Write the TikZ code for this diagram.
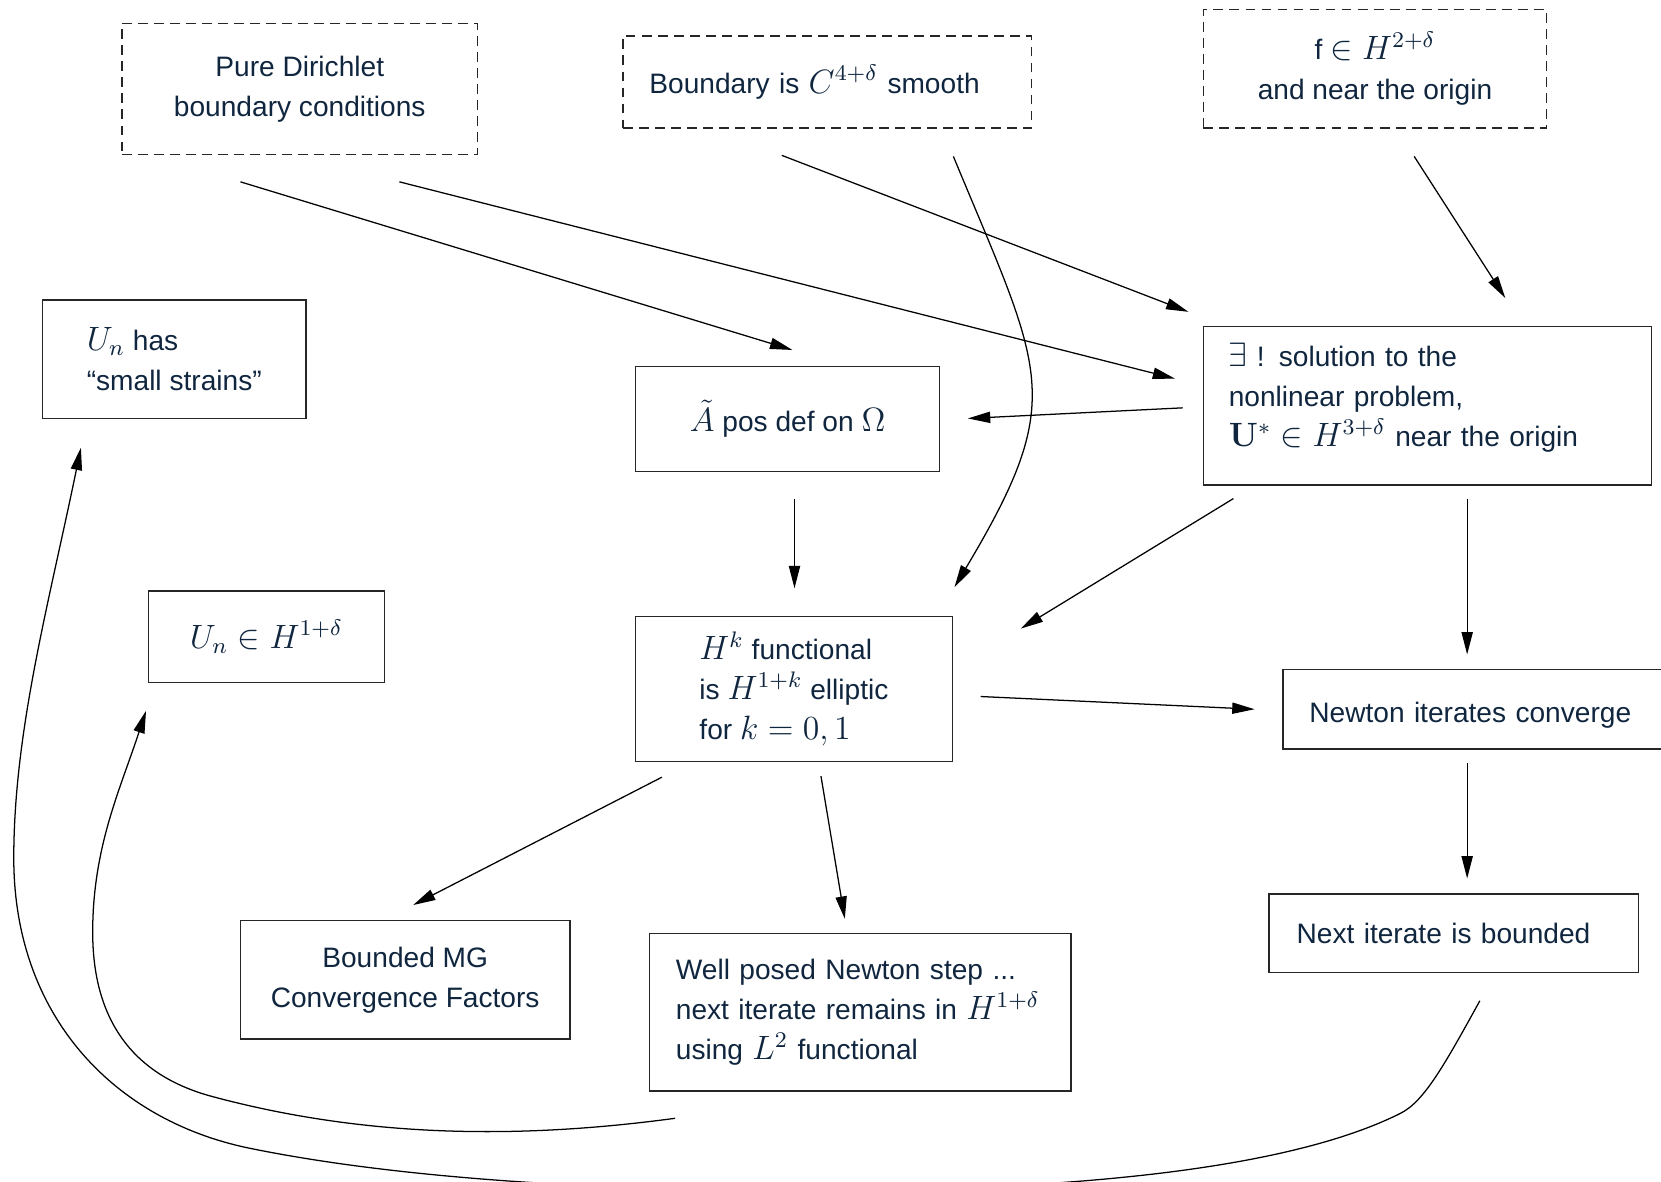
\documentclass[tikz,border=0pt]{standalone}
\usepackage[no-math]{fontspec}
\setmainfont{Liberation Sans}
\usepackage{amsmath,amssymb}
\usetikzlibrary{arrows.meta}
\definecolor{inkblue}{HTML}{10263F}
\DeclareMathSizes{10}{12}{8.5}{6}

\begin{document}
\begin{tikzpicture}[
    x=0.013243cm, y=-0.013243cm,
    >={Triangle[length=2.8mm, width=1.4mm]},
    every node/.style={text=inkblue, font=\fontsize{10}{14.3}\selectfont},
    box/.style={draw=black!85, line width=0.5pt, rectangle, inner sep=0pt},
    dbox/.style={box, dash pattern=on 3.5pt off 2.2pt},
    link/.style={->, line width=0.45pt},
  ]

  % Frame of the figure
  \clip (0,0) rectangle (1568,1115);

  % === Hypotheses (dashed) ===
  \node[dbox, minimum width=4.450cm, minimum height=1.642cm, align=center]
    (pd) at (283,84) {Pure Dirichlet\\boundary conditions};
  \node[dbox, minimum width=5.112cm, minimum height=1.152cm,
        text width=4.45cm, align=left]
    (bd) at (781,77.5) {Boundary is $C^{4+\delta}$ smooth};
  \node[dbox, minimum width=4.291cm, minimum height=1.483cm, align=center]
    (fh) at (1298,65) {f $\in H^{2+\delta}$\\and near the origin};

  % === Results ===
  \node[box, minimum width=3.297cm, minimum height=1.483cm, align=left]
    (us) at (164.5,339) {$U_n$ has\\“small strains”};
  \node[box, minimum width=3.801cm, minimum height=1.311cm]
    (ap) at (743.5,395.5) {$\tilde{A}$ pos def on $\Omega$};
  \node[box, minimum width=5.602cm, minimum height=1.986cm,
        text width=4.966cm, text height=2.5pt, align=left]
    (ex) at (1347.5,383) {$\exists$ ! solution to the\\nonlinear problem,\\
      $\mathbf{U}^{*} \in H^{3+\delta}$ near the origin};
  \node[box, minimum width=2.953cm, minimum height=1.139cm]
    (uh) at (251.5,601) {$U_n \in H^{1+\delta}$};
  \node[box, minimum width=3.960cm, minimum height=1.814cm, align=left]
    (hk) at (749.5,650.5) {$H^k$ functional\\is $H^{1+k}$ elliptic\\for $k=0,1$};
  \node[box, minimum width=4.754cm, minimum height=0.993cm,
        text width=4.092cm, text height=11.5pt, align=left]
    (nc) at (1390.5,669.5) {Newton iterates converge};
  \node[box, minimum width=4.119cm, minimum height=1.483cm, align=center]
    (bm) at (382.5,925) {Bounded MG\\Convergence Factors};
  \node[box, minimum width=5.271cm, minimum height=1.973cm,
        text width=4.608cm, align=left]
    (wp) at (812,955.5) {Well posed Newton step ...\\
      next iterate remains in $H^{1+\delta}$\\using $L^2$ functional};
  \node[box, minimum width=4.622cm, minimum height=0.980cm,
        text width=3.933cm, align=left]
    (nb) at (1372.5,881) {Next iterate is bounded};

  % === Implications ===
  \draw[link] ([shift={(-56,25)}]pd.south) -- ([shift={(4.5,-15)}]ap.north);
  \draw[link] ([shift={(94,25)}]pd.south) -- ([shift={(-26,-25.5)}]ex.west);
  \draw[link] ([shift={(-43,25)}]bd.south) -- ([shift={(-13.5,-13)}]ex.north west);
  \draw[link] ([shift={(119,26)}]bd.south)
    .. controls (985,353) and (1008,375) .. ([shift={(151.5,-27)}]hk.north);
  \draw[link] ([shift={(37,26)}]fh.south) -- ([shift={(73.5,-26)}]ex.north);
  \draw[link] ([shift={(-19,2)}]ex.west) -- ([shift={(26,-0.5)}]ap.east);
  \draw[link] ([shift={(6.5,25)}]ap.south) -- ([shift={(0.5,-26)}]hk.north);
  \draw[link] ([shift={(29,12)}]ex.south west) -- ([shift={(64,12)}]hk.north east);
  \draw[link] ([shift={(37.5,12)}]ex.south) -- ([shift={(-5.5,-13.5)}]nc.north);
  \draw[link] ([shift={(26,7)}]hk.east) -- ([shift={(-26,0)}]nc.west);
  \draw[link] ([shift={(-5.5,13)}]nc.south) -- ([shift={(12.5,-14)}]nb.north);
  \draw[link] ([shift={(25.5,14)}]hk.south west) -- ([shift={(7.5,-14)}]bm.north);
  \draw[link] ([shift={(25.5,13)}]hk.south) -- ([shift={(-14.5,-13)}]wp.north);

  % Loops back to the iterate
  \draw[link] ([shift={(25,25)}]wp.south west)
    .. controls (489.5,1075.6) and (344.8,1074) .. (200,1035)
    .. controls (122.8,1014.2) and (87.5,960) .. (87.5,880)
    .. controls (87.5,800) and (113.1,746.1) .. ([shift={(-1.5,26.3)}]uh.south west);
  \draw[link] ([shift={(24.5,26)}]nb.south)
    .. controls (1363.4,1005.6) and (1344.4,1039.8) .. (1322,1051)
    .. controls (1214.7,1104.6) and (1010,1124) .. (760,1124)
    .. controls (580,1124) and (383,1114) .. (236,1084)
    .. controls (108.6,1058) and (13,960) .. (13,810)
    .. controls (13,690) and (46.3,568.9) .. ([shift={(37,27)}]us.south west);

\end{tikzpicture}
\end{document}
